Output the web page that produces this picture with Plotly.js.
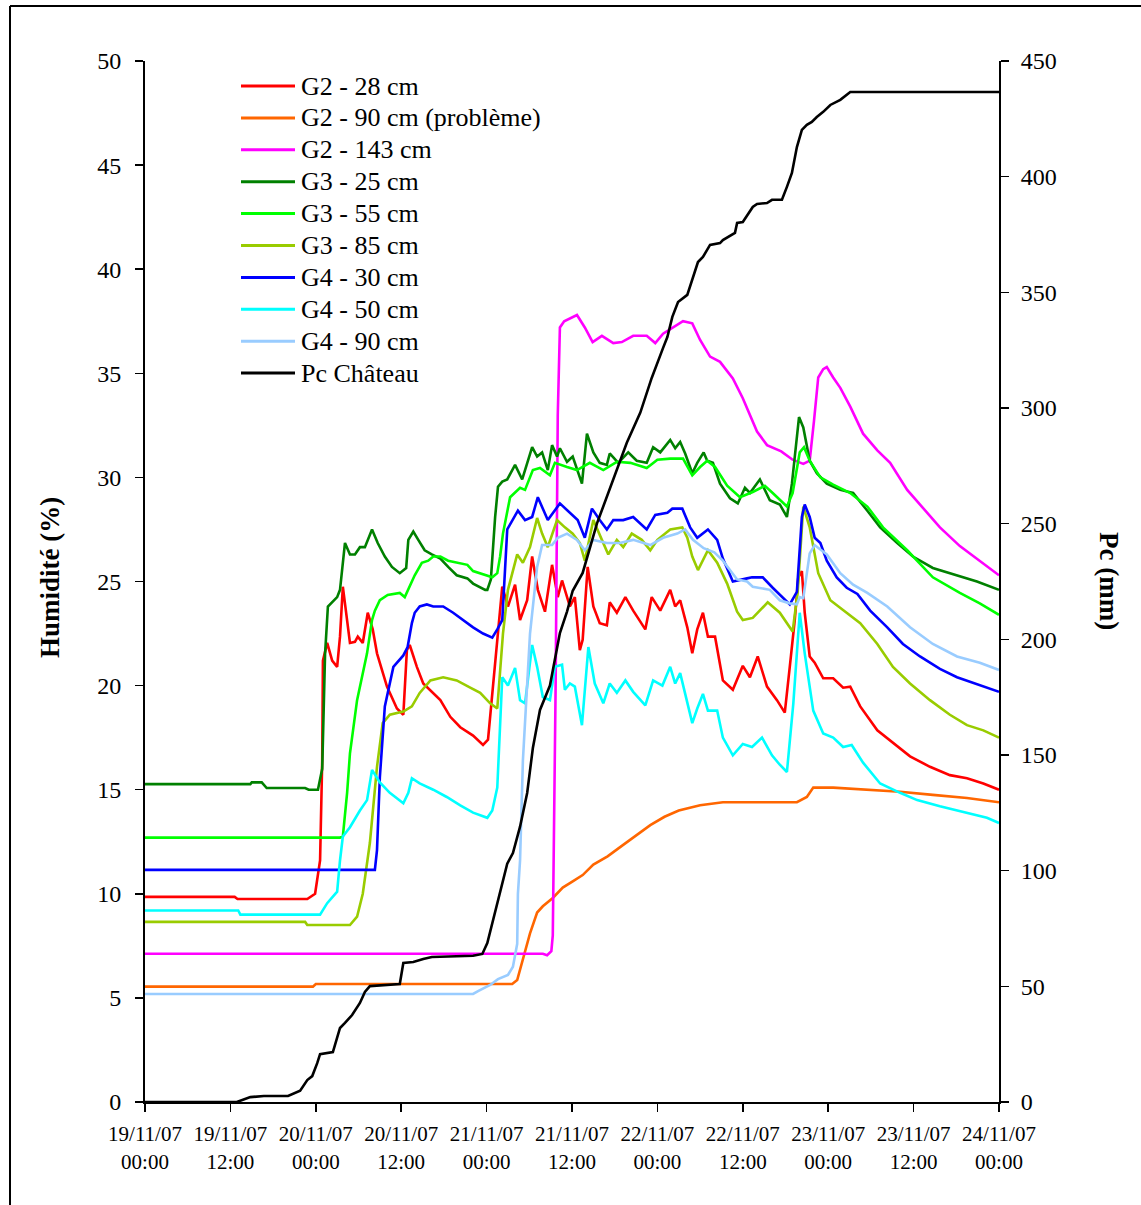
<!DOCTYPE html>
<html>
<head>
<meta charset="utf-8">
<script src="https://cdn.plot.ly/plotly-3.0.1.min.js"></script>
<style>html,body{margin:0;padding:0;background:#fff;}#chart{width:1141px;height:1205px;}</style>
</head>
<body>
<div id="chart"></div>
<script>
// Time in hours since 19/11/07 00:00
const tickHours = [0,12,24,36,48,60,72,84,96,108,120];
const tickDates = ['19/11/07','19/11/07','20/11/07','20/11/07','21/11/07','21/11/07','22/11/07','22/11/07','23/11/07','23/11/07','24/11/07'];
const tickTimes = ['00:00','12:00','00:00','12:00','00:00','12:00','00:00','12:00','00:00','12:00','00:00'];

const seriesNames = ['G2 - 28 cm','G2 - 90 cm (problème)','G2 - 143 cm','G3 - 25 cm','G3 - 55 cm','G3 - 85 cm','G4 - 30 cm','G4 - 50 cm','G4 - 90 cm','Pc Château'];
const seriesColors = ['#FF0000','#FF6600','#FF00FF','#008000','#00FF00','#99CC00','#0000FF','#00FFFF','#99CCFF','#000000'];

const g2_28_t = [0,12.6,13,22.8,23.9,24.6,24.9,25.0,25.6,26.3,27.0,27.4,27.8,28.4,28.8,29.5,29.9,30.6,31.3,32.0,32.6,34.0,35.4,36.3,36.8,37.2,38.2,39.1,40.5,41.5,42.9,44.3,46.1,47.5,48.2,48.9,49.5,50.2,51.0,52.0,52.7,53.7,54.4,55.2,56.2,57.2,58.0,58.6,59.7,60.4,61.1,61.5,62.2,63.0,63.9,64.9,65.3,66.3,67.5,68.6,70.3,71.2,72.4,73.8,74.5,75.2,76.2,76.9,77.6,78.4,79.1,80.1,81.2,82.6,84.0,85.0,86.1,87.4,88.8,89.9,90.6,91.3,91.8,92.3,92.7,93.4,94.1,95.3,96.7,98.1,99.1,100.5,102.9,105.1,107.5,110.3,113.1,115.5,117.8,120];
const g2_28_v = [9.85,9.85,9.75,9.75,10.0,11.6,16.4,21.2,22.05,21.2,20.9,22.35,24.75,23.15,22.05,22.1,22.35,22.05,23.5,22.7,21.55,19.95,18.9,18.6,21.7,21.95,20.9,20.1,19.65,19.3,18.5,18.0,17.6,17.15,17.4,19.95,22.5,24.75,23.8,24.85,23.15,24.1,26.2,24.6,23.55,25.8,24.25,25.05,23.8,24.25,21.7,22.2,25.7,23.8,23.0,22.9,24.0,23.5,24.25,23.6,22.7,24.25,23.6,24.6,23.8,24.1,22.8,21.55,22.7,23.5,22.35,22.35,20.25,19.8,20.95,20.4,21.4,19.95,19.3,18.7,20.9,23.15,25.2,25.5,23.5,21.4,21.1,20.35,20.35,19.9,19.95,19.0,17.85,17.25,16.6,16.1,15.7,15.55,15.3,15.0];

const g2_90_t = [0,23.6,24,51.6,52.3,53.1,54.1,55.1,55.9,57.3,58.7,60.1,61.5,63.0,65,67,69,71,73,75,78,81.2,88,91.6,93.0,93.9,96.7,101.5,106.1,110.7,115.5,120];
const g2_90_v = [5.54,5.54,5.67,5.67,5.86,6.8,8.1,9.1,9.4,9.8,10.3,10.6,10.9,11.4,11.8,12.3,12.8,13.3,13.7,14.0,14.25,14.4,14.4,14.4,14.65,15.1,15.1,15.0,14.9,14.75,14.6,14.4];

const g2_143_t = [0,55.9,56.5,57.1,57.3,57.7,58.0,58.3,58.9,60.7,61.8,62.9,64.2,65.8,67.0,68.6,70.5,71.7,72.8,74.8,75.6,76.9,78.0,79.4,80.8,82.6,84.0,86.0,87.4,89.4,91.0,92.5,93.4,94.0,94.6,95.3,95.8,96.7,97.7,99.1,100.9,102.9,104.7,107.1,109.9,111.7,114.5,117.3,120];
const g2_143_v = [7.12,7.12,7.05,7.25,8,20,33,37.2,37.5,37.8,37.2,36.5,36.8,36.45,36.5,36.8,36.8,36.45,36.9,37.3,37.5,37.4,36.6,35.8,35.55,34.75,33.8,32.2,31.55,31.25,30.85,30.65,30.8,32.7,34.8,35.2,35.3,34.8,34.3,33.4,32.1,31.3,30.7,29.4,28.3,27.6,26.7,26.0,25.3];

const g3_25_t = [0,14.8,15.0,16.4,17.1,22.5,23.0,24.3,24.9,25.3,25.7,27.0,27.4,28.1,28.8,29.5,30.2,30.9,31.9,32.7,33.7,34.7,35.8,36.7,37.0,37.7,38.4,39.3,40.3,41.5,42.6,43.8,45.3,46.1,47.8,48.1,48.6,49.2,49.6,50.2,50.9,52.0,53.0,53.7,54.4,55.1,55.8,56.6,57.2,57.9,58.3,59.3,60.1,61.4,62.1,63.0,63.9,64.9,65.3,66.5,67.9,69.1,70.5,71.4,72.4,73.8,74.5,75.2,75.9,76.9,77.6,78.5,79.0,79.8,80.8,82.2,83.3,84.3,85.0,86.4,87.8,89.2,90.2,90.9,91.9,92.5,93.4,94.4,95.8,97.7,99.5,101.5,103.3,105.7,107.9,110.7,114.1,116.9,120];
const g3_25_v = [15.27,15.27,15.35,15.35,15.08,15.08,15.0,15.0,16.0,21.5,23.8,24.25,24.6,26.85,26.3,26.3,26.65,26.65,27.5,26.85,26.2,25.7,25.4,25.65,27.0,27.4,27.0,26.5,26.3,26.1,25.7,25.3,25.15,24.9,24.6,24.6,25.1,28.1,29.55,29.8,29.9,30.6,29.9,30.7,31.45,31.0,31.2,30.35,31.55,31.0,31.4,30.75,31.0,29.7,32.1,31.2,30.7,30.6,31.15,30.7,31.2,30.8,30.7,31.45,31.2,31.8,31.4,31.7,31.15,30.2,30.7,31.2,30.8,30.7,29.7,29.0,28.75,29.5,29.25,29.9,28.9,28.7,28.1,29.7,32.9,32.4,30.8,30.2,29.7,29.4,29.25,28.4,27.6,26.85,26.2,25.65,25.3,25.0,24.6];

const g3_55_t = [0,27.4,27.8,28.4,28.8,29.8,31.2,31.9,32.3,33.0,34.1,35.4,35.8,36.5,37.2,37.9,38.9,39.8,40.5,41.5,42.6,44.0,45.3,46.1,47.4,48.8,49.5,49.9,50.3,51.3,52.7,53.4,54.5,55.5,56.9,57.6,59.3,60.7,62.5,64.4,66.3,68.2,70.5,72.0,73.8,75.6,76.9,78.0,79.0,80.1,81.8,83.6,85.4,87.1,88.2,90.2,91.0,92.0,92.6,93.4,94.9,96.7,99.1,101.5,103.7,107.1,110.7,114.5,117.3,120];
const g3_55_v = [12.7,12.7,12.75,14.85,16.75,19.3,21.55,23.15,23.6,24.1,24.35,24.45,24.45,24.25,24.75,25.3,25.9,26.0,26.2,26.2,26.0,25.9,25.8,25.5,25.35,25.2,25.4,26.2,27.3,29.05,29.5,29.4,30.35,30.45,30.1,30.7,30.5,30.35,30.7,30.35,30.75,30.7,30.45,30.85,30.9,30.9,30.1,30.5,30.8,30.5,29.6,29.05,29.3,29.6,29.25,28.6,29.25,31.2,31.45,30.8,30.0,29.65,29.25,28.6,27.6,26.5,25.2,24.45,23.95,23.4];

const g3_85_t = [0,22.5,22.8,28.8,29.8,30.6,31.6,32.6,33.4,34.4,36.3,37.5,38.6,40.1,41.9,43.8,45.7,47.1,48.5,49.5,50.3,51.0,52.3,53.1,54.1,55.1,55.8,56.6,57.9,59.0,60.1,61.1,61.8,63.0,64.2,65.1,66.3,67.2,68.4,69.8,71.0,72.0,73.8,75.5,76.2,76.9,77.7,79.1,80.4,81.8,83.2,84.0,85.4,87.5,89.2,91.0,91.7,92.5,93.4,94.6,96.3,98.2,100.5,102.9,105.1,107.5,110.3,113.1,115.5,117.8,120];
const g3_85_v = [8.65,8.65,8.5,8.5,8.9,10.0,12.45,16.1,18.2,18.6,18.75,19.0,19.65,20.25,20.4,20.25,19.9,19.65,19.15,18.9,22.5,24.6,26.3,25.9,26.65,28.05,27.3,26.65,27.95,27.6,27.3,26.85,26.0,27.95,27.0,26.3,27.0,26.65,27.3,27.0,26.5,27.0,27.5,27.6,27.1,26.2,25.55,26.5,25.9,24.9,23.55,23.15,23.25,24.0,23.5,22.6,24.45,28.6,27.6,25.4,24.1,23.6,23.0,22.0,20.9,20.1,19.3,18.6,18.1,17.85,17.5];

const g4_30_t = [0,32.3,32.6,33.0,33.7,34.9,36.3,36.9,37.5,37.9,38.6,39.6,40.5,41.9,43.3,44.7,46.1,47.5,48.8,49.5,50.2,50.9,52.4,53.4,54.4,55.2,56.6,58.3,59.7,60.8,61.8,62.8,63.9,64.9,65.8,67.2,68.6,70.5,71.7,73.4,74.1,75.5,76.6,77.6,79.1,80.4,81.2,82.6,84.6,85.3,86.8,88.2,90.6,91.6,92.3,92.7,93.4,94.1,94.9,95.8,97.2,98.6,100.1,101.9,104.3,106.5,108.9,111.7,114.1,117.3,120];
const g4_30_v = [11.15,11.15,12.1,15.6,19.0,20.9,21.45,21.85,23.0,23.5,23.8,23.9,23.8,23.8,23.5,23.15,22.8,22.5,22.3,22.7,23.15,27.5,28.4,27.95,28.1,29.05,27.95,28.75,28.3,27.95,27.1,28.5,27.95,27.5,27.95,27.95,28.1,27.5,28.2,28.3,28.5,28.5,27.6,27.1,27.5,27.0,26.1,25.0,25.15,25.2,25.2,24.7,23.9,24.5,28.1,28.7,28.1,27.1,26.85,26.0,25.2,24.7,24.4,23.6,22.8,22.0,21.4,20.8,20.4,20.0,19.7];

const g4_50_t = [0,13.1,13.4,24.6,25.6,27.0,27.4,27.8,28.8,30.2,31.2,31.9,33.0,34.4,36.3,37.0,37.5,38.6,40.5,42.4,44.3,46.1,48.1,48.8,49.5,50.2,51.0,52.0,52.7,53.4,54.4,55.1,55.9,56.9,57.6,58.6,59.0,59.7,60.4,61.4,62.3,63.2,64.4,65.3,66.3,67.5,68.6,70.3,71.4,72.7,73.8,74.5,75.2,76.9,77.6,78.4,79.1,80.4,81.2,82.6,84.0,85.3,86.7,88.1,89.2,90.2,91.1,92.0,92.7,93.9,95.3,96.7,98.1,99.3,100.9,103.3,106.1,108.5,111.7,115.5,118.3,120];
const g4_50_v = [9.2,9.2,9.0,9.0,9.55,10.1,11.6,12.75,13.2,14.0,14.5,15.95,15.35,14.85,14.35,14.85,15.55,15.3,15.0,14.65,14.25,13.9,13.65,14.0,15.1,20.4,20.0,20.85,19.3,19.15,21.95,20.9,19.45,19.3,20.9,21.0,19.8,20.1,19.95,18.1,21.85,20.1,19.15,20.1,19.65,20.25,19.7,19.05,20.25,20.0,20.9,20.1,20.6,18.2,18.9,19.6,18.8,18.8,17.5,16.65,17.2,17.05,17.5,16.65,16.2,15.85,19.15,23.5,21.55,18.8,17.7,17.5,17.05,17.15,16.3,15.3,14.85,14.5,14.2,13.9,13.65,13.4];

const g4_90_t = [0,46.1,46.8,48.5,49.6,51.0,51.7,52.3,52.4,52.7,53.1,54.1,55.1,55.8,57.2,58.0,59.3,60.7,61.8,63.0,64.9,66.7,68.6,71.0,72.8,74.8,75.9,77.0,78.5,80.0,81.2,82.2,83.2,84.6,85.4,87.8,89.2,90.6,91.6,92.0,92.5,93.4,94.1,95.8,97.7,99.5,101.5,104.3,107.5,110.7,114.1,117.3,120];
const g4_90_v = [5.19,5.19,5.33,5.62,5.9,6.1,6.5,7.6,10.0,11.6,16.4,22.5,25.7,26.75,26.75,27.1,27.3,27.0,26.5,27.0,26.85,26.85,27.0,26.75,27.1,27.3,27.5,27.0,26.6,26.4,26.0,25.55,25.1,25.0,24.75,24.6,24.1,23.95,23.9,24.25,24.2,26.35,26.75,26.3,25.4,24.85,24.45,23.8,22.8,22.0,21.4,21.1,20.75];

const pc_t = [0,12.9,14.8,16.7,20.1,20.9,21.8,22.8,23.5,24.2,24.6,26.4,27.4,28.1,29.1,30.2,30.9,31.6,35.8,36.3,37.7,39.1,40.3,46.1,47.4,48.1,48.9,49.9,50.9,51.7,52.7,53.7,54.5,55.5,56.9,58.3,59.3,60.1,61.5,63.5,65.8,67.7,69.6,71.2,72.8,73.4,74.1,74.9,76.2,76.9,77.7,78.4,79.4,80.8,81.2,82.9,83.2,84.0,85.4,86.0,87.4,88.1,89.5,90.2,90.9,91.6,92.3,93.0,93.7,94.4,95.3,96.3,97.7,99.1,120];
const pc_v = [0,0,2.1,2.6,2.6,3.8,4.9,9.5,11.2,16.8,20.7,21.6,32,34.2,37.6,42.8,47.6,50.1,51.0,60.1,60.5,61.8,62.7,63.2,64,68.7,78.7,90.3,103,107.6,119,133.6,153,169.5,180,202.7,212,221,228.7,250,269,285,298,313,326,330.7,339.4,345.8,348.9,355.3,363.1,365.3,370.5,371.3,372.6,375.7,380,380.4,386.9,388.2,388.6,390,390,395.6,401.6,412.8,420.2,422.4,423.7,425.8,428,431,433.2,436.6,436.6];

const allT = [g2_28_t,g2_90_t,g2_143_t,g3_25_t,g3_55_t,g3_85_t,g4_30_t,g4_50_t,g4_90_t,pc_t];
const allV = [g2_28_v,g2_90_v,g2_143_v,g3_25_v,g3_55_v,g3_85_v,g4_30_v,g4_50_v,g4_90_v,pc_v];

const FONT = '"Liberation Serif", "Times New Roman", serif';

const traces = allT.map((t, i) => ({
  type: 'scatter', mode: 'lines', x: t, y: allV[i], name: seriesNames[i],
  yaxis: i === 9 ? 'y2' : 'y',
  line: {color: seriesColors[i], width: 2.6},
  showlegend: false, hoverinfo: 'skip'
}));

// plot area in pixels
const L = 145, R = 999, T = 61, B = 1102;
const px = v => (v - L) / (R - L);
const py = v => (B - v) / (B - T);

const shapes = [];
const annotations = [];
seriesNames.forEach((nm, i) => {
  const yy = 86 + i * 31.9;
  shapes.push({type: 'line', xref: 'paper', yref: 'paper', x0: px(241), x1: px(295), y0: py(yy), y1: py(yy), line: {color: seriesColors[i], width: 3}});
  annotations.push({xref: 'paper', yref: 'paper', x: px(299), y: py(yy), xanchor: 'left', yanchor: 'middle', showarrow: false, text: nm, font: {family: FONT, size: 26, color: '#000'}});
});
// outer frame (top and left edges)
shapes.push({type: 'line', xref: 'paper', yref: 'paper', x0: px(10), x1: px(1145), y0: py(6), y1: py(6), line: {color: '#000', width: 2}});
shapes.push({type: 'line', xref: 'paper', yref: 'paper', x0: px(10), x1: px(10), y0: py(6), y1: py(1210), line: {color: '#000', width: 2}});

annotations.push({xref: 'paper', yref: 'paper', x: px(50), y: py(578), xanchor: 'center', yanchor: 'middle', textangle: -90, showarrow: false, text: '<b>Humidité (%)</b>', font: {family: FONT, size: 27, color: '#000'}});
annotations.push({xref: 'paper', yref: 'paper', x: px(1109), y: py(581), xanchor: 'center', yanchor: 'middle', textangle: 90, showarrow: false, text: '<b>Pc (mm)</b>', font: {family: FONT, size: 27, color: '#000'}});

const layout = {
  width: 1141, height: 1205,
  margin: {l: L, r: 1141 - R, t: T, b: 1205 - B, pad: 0},
  paper_bgcolor: '#fff', plot_bgcolor: '#fff',
  showlegend: false,
  font: {family: FONT, color: '#000'},
  xaxis: {
    range: [0, 120], tickmode: 'array', tickvals: tickHours,
    ticktext: tickHours.map((h, i) => tickDates[i] + '<br>' + tickTimes[i]),
    showgrid: false, zeroline: false, showline: true, linecolor: '#000', linewidth: 2,
    ticks: 'outside', ticklen: 8, tickwidth: 1.5, tickcolor: '#000',
    tickfont: {family: FONT, size: 21, color: '#000'}, ticklabelstandoff: 4
  },
  yaxis: {
    range: [0, 50], tickmode: 'linear', tick0: 0, dtick: 5,
    showgrid: false, zeroline: false, showline: true, linecolor: '#000', linewidth: 2,
    ticks: 'outside', ticklen: 8, tickwidth: 1.5, tickcolor: '#000',
    tickfont: {family: FONT, size: 24, color: '#000'}, ticklabelstandoff: 9
  },
  yaxis2: {
    range: [0, 450], tickmode: 'linear', tick0: 0, dtick: 50,
    overlaying: 'y', side: 'right',
    showgrid: false, zeroline: false, showline: true, linecolor: '#000', linewidth: 2,
    ticks: 'outside', ticklen: 8, tickwidth: 1.5, tickcolor: '#000',
    tickfont: {family: FONT, size: 24, color: '#000'}, ticklabelstandoff: 7
  },
  shapes: shapes,
  annotations: annotations
};

Plotly.newPlot('chart', traces, layout, {staticPlot: true, displayModeBar: false});
</script>
</body>
</html>
